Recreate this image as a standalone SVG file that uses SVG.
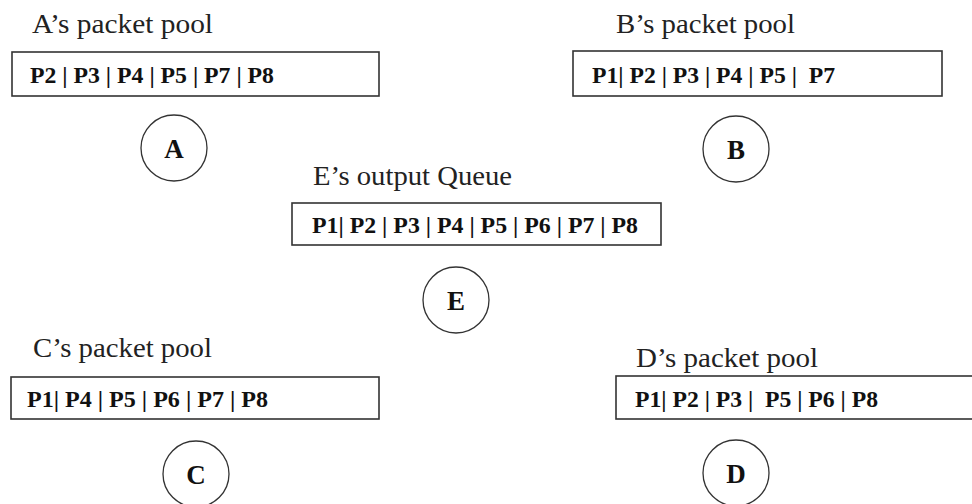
<svg xmlns="http://www.w3.org/2000/svg" width="972" height="504" viewBox="0 0 972 504">
<style>
.title{font-family:"Liberation Serif","Times New Roman",serif;font-size:28px;fill:#222}
.pk{font-family:"Liberation Serif","Times New Roman",serif;font-size:24px;font-weight:bold;fill:#111;white-space:pre}
.box{fill:#fff;stroke:#333;stroke-width:1.6}
.node{fill:#fff;stroke:#333;stroke-width:1.3}
.lbl{font-family:"Liberation Serif","Times New Roman",serif;font-size:27px;font-weight:bold;fill:#111;text-anchor:middle}
</style>
<rect width="972" height="504" fill="#fff"/>
<g id="poolA">
<text class="title" x="32" y="33" textLength="181" lengthAdjust="spacingAndGlyphs">A’s packet pool</text>
<rect class="box" x="12" y="52" width="367" height="44"/>
<text class="pk" x="30" y="83" textLength="244" lengthAdjust="spacingAndGlyphs">P2 | P3 | P4 | P5 | P7 | P8</text>
</g>
<g id="poolB">
<text class="title" x="616" y="33" textLength="179" lengthAdjust="spacingAndGlyphs">B’s packet pool</text>
<rect class="box" x="573" y="51" width="369" height="45"/>
<text class="pk" x="592" y="83" textLength="243" lengthAdjust="spacingAndGlyphs" xml:space="preserve">P1| P2 | P3 | P4 | P5 |  P7</text>
</g>
<g id="queueE">
<text class="title" x="313" y="185" textLength="199" lengthAdjust="spacingAndGlyphs">E’s output Queue</text>
<rect class="box" x="292" y="203" width="369" height="42"/>
<text class="pk" x="312" y="233" textLength="326" lengthAdjust="spacingAndGlyphs">P1| P2 | P3 | P4 | P5 | P6 | P7 | P8</text>
</g>
<g id="poolC">
<text class="title" x="33" y="357" textLength="179" lengthAdjust="spacingAndGlyphs">C’s packet pool</text>
<rect class="box" x="11" y="377" width="368" height="42"/>
<text class="pk" x="27" y="407" textLength="241" lengthAdjust="spacingAndGlyphs">P1| P4 | P5 | P6 | P7 | P8</text>
</g>
<g id="poolD">
<text class="title" x="636" y="367" textLength="182" lengthAdjust="spacingAndGlyphs">D’s packet pool</text>
<rect class="box" x="616" y="376" width="370" height="43"/>
<text class="pk" x="635" y="407" textLength="243" lengthAdjust="spacingAndGlyphs" xml:space="preserve">P1| P2 | P3 |  P5 | P6 | P8</text>
</g>
<g id="nodeA"><circle class="node" cx="174" cy="148" r="33"/><text class="lbl" x="174" y="158">A</text></g>
<g id="nodeB"><circle class="node" cx="736" cy="149" r="33"/><text class="lbl" x="736" y="159">B</text></g>
<g id="nodeE"><circle class="node" cx="456" cy="300" r="33"/><text class="lbl" x="456" y="310">E</text></g>
<g id="nodeC"><circle class="node" cx="196" cy="474" r="33"/><text class="lbl" x="196" y="484">C</text></g>
<g id="nodeD"><circle class="node" cx="736" cy="473" r="33"/><text class="lbl" x="736" y="483">D</text></g>
<g id="connectors"></g>
</svg>
